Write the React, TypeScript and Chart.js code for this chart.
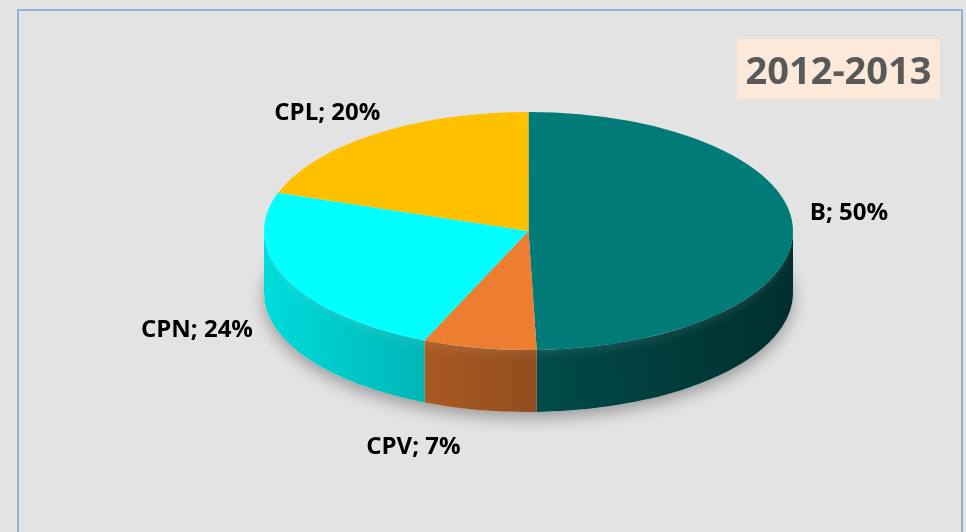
import React, { useEffect, useRef } from 'react';
import { Chart, registerables } from 'chart.js';

Chart.register(...registerables);

// ---- data ----
const categories = ['B', 'CPV', 'CPN', 'CPL'];
const shares = [50, 7, 24, 20];
const sliceColors = ['#007b78', '#ed7d31', '#00ffff', '#ffc000'];
const chartTitle = '2012-2013';
// label nudges (px) relative to the slice's outer rim point
const labelNudges = [
  [56, -18],
  [-66, 35],
  [-90, -14],
  [-47, -23],
];

// ---- look ----
const W = 966;
const H = 532;
const TILT = 0.45; // vertical squash of the pie face
const FACE_CY = 231; // vertical centre of the top face
const DEPTH = 62; // thickness of the pie
const BG = '#e3e3e3';
const FONT = '"Open Sans", "Liberation Sans", Arial, sans-serif';

function shade(hex: string, f: number): string {
  const n = parseInt(hex.slice(1), 16);
  const r = Math.round(((n >> 16) & 255) * f);
  const g = Math.round(((n >> 8) & 255) * f);
  const b = Math.round((n & 255) * f);
  return `rgb(${r},${g},${b})`;
}

const pie3d = {
  id: 'pie3d',
  beforeDraw(chart: any) {
    const ctx = chart.ctx;
    ctx.save();
    ctx.fillStyle = BG;
    ctx.fillRect(0, 0, chart.width, chart.height);
    ctx.fillStyle = '#95b3d7';
    ctx.fillRect(17, 9, 2, chart.height);
    ctx.fillRect(17, 9, 946, 2);
    ctx.fillRect(961, 9, 2, chart.height);
    ctx.restore();
  },
  beforeDatasetsDraw(chart: any) {
    const ctx = chart.ctx;
    const arcs = chart.getDatasetMeta(0).data;
    chart.$pieSaved = false;
    if (!arcs.length) return;
    const a0 = arcs[0];
    const cx = a0.x;
    const r = a0.outerRadius;
    const ry = r * TILT;

    // soft shadow under the pie
    ctx.save();
    ctx.shadowColor = 'rgba(0,0,0,0.32)';
    ctx.shadowBlur = 16;
    ctx.shadowOffsetY = 6;
    ctx.fillStyle = BG;
    ctx.beginPath();
    ctx.ellipse(cx, FACE_CY + DEPTH, r, ry, 0, 0, Math.PI * 2);
    ctx.fill();
    ctx.restore();

    // sides (front half only)
    const PI = Math.PI;
    arcs.forEach((arc: any, i: number) => {
      const color = sliceColors[i % sliceColors.length];
      const ranges = [
        [0, PI],
        [2 * PI, 3 * PI],
        [-2 * PI, -PI],
      ];
      ranges.forEach(([lo, hi]) => {
        const s = Math.max(arc.startAngle, lo);
        const e = Math.min(arc.endAngle, hi);
        if (e <= s) return;
        ctx.save();
        const lg = ctx.createLinearGradient(cx - r, 0, cx + r, 0);
        lg.addColorStop(0, shade(color, 0.86));
        lg.addColorStop(1, shade(color, 0.38));
        ctx.fillStyle = lg;
        ctx.beginPath();
        ctx.ellipse(cx, FACE_CY, r, ry, 0, s, e, false);
        ctx.ellipse(cx, FACE_CY + DEPTH, r, ry, 0, e, s, true);
        ctx.closePath();
        ctx.fill();
        // soft bevel just under the rim
        for (let k = 0; k < 5; k++) {
          ctx.fillStyle = `rgba(255,255,255,${(0.07 * (1 - k / 5)).toFixed(3)})`;
          ctx.beginPath();
          ctx.ellipse(cx, FACE_CY + k * 2, r, ry, 0, s, e, false);
          ctx.ellipse(cx, FACE_CY + k * 2 + 2, r, ry, 0, e, s, true);
          ctx.closePath();
          ctx.fill();
        }
        ctx.restore();
      });
    });

    // squash the top face drawn by the library
    ctx.save();
    ctx.translate(0, FACE_CY);
    ctx.scale(1, TILT);
    ctx.translate(0, -a0.y);
    chart.$pieSaved = true;
  },
  afterDatasetsDraw(chart: any) {
    if (chart.$pieSaved) {
      chart.ctx.restore();
      chart.$pieSaved = false;
    }
  },
  afterDraw(chart: any) {
    const ctx = chart.ctx;
    ctx.save();
    // title box
    ctx.fillStyle = '#fde9d9';
    ctx.fillRect(737, 39, 203, 60);
    ctx.fillStyle = '#595959';
    ctx.font = `bold 38px ${FONT}`;
    ctx.textAlign = 'center';
    ctx.textBaseline = 'alphabetic';
    ctx.fillText(chartTitle, 838.5, 84);

    // data labels
    const arcs = chart.getDatasetMeta(0).data;
    const vals = chart.data.datasets[0].data as number[];
    const total = vals.reduce((a: number, b: number) => a + b, 0);
    ctx.fillStyle = '#000000';
    ctx.font = `bold 24px ${FONT}`;
    arcs.forEach((arc: any, i: number) => {
      const mid = (arc.startAngle + arc.endAngle) / 2;
      const r = arc.outerRadius;
      const c = Math.cos(mid);
      const s = Math.sin(mid);
      const px = arc.x + r * c;
      const py = FACE_CY + r * TILT * s + (s > 0 ? DEPTH : 0);
      const [dx, dy] = labelNudges[i] || [0, 0];
      const pct = Math.round((vals[i] / total) * 100);
      ctx.fillText(`${chart.data.labels[i]}; ${pct}%`, px + dx, py + dy + 9);
    });
    ctx.restore();
  },
};

export default function App() {
  const ref = useRef<HTMLCanvasElement | null>(null);
  useEffect(() => {
    document.body.style.margin = '0';
    const canvas = ref.current;
    if (!canvas) return;
    const chart = new Chart(canvas, {
      type: 'pie',
      data: {
        labels: categories,
        datasets: [
          {
            data: shares,
            backgroundColor: sliceColors,
            borderWidth: 0,
            hoverOffset: 0,
            offset: 0,
          },
        ],
      },
      options: {
        responsive: false,
        animation: false,
        devicePixelRatio: 1,
        events: [],
        layout: { padding: { left: 264, right: 173, top: 0, bottom: 0 } },
        plugins: {
          legend: { display: false },
          tooltip: { enabled: false },
          title: { display: false },
        },
      },
      plugins: [pie3d],
    });
    return () => chart.destroy();
  }, []);
  return (
    <div style={{ position: 'fixed', left: 0, top: 0, width: W, height: H, background: BG }}>
      <canvas ref={ref} width={W} height={H} style={{ display: 'block', width: W, height: H }} />
    </div>
  );
}
